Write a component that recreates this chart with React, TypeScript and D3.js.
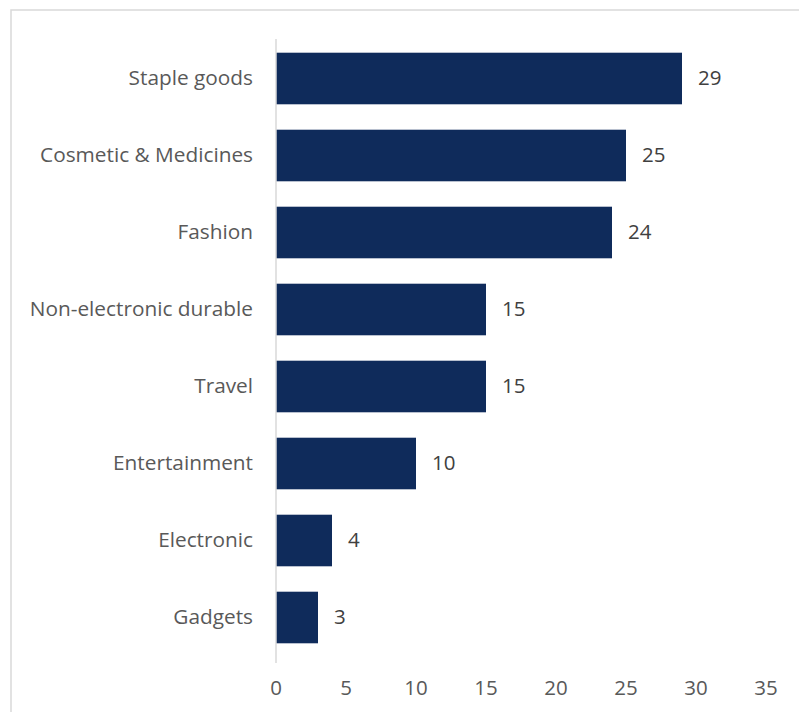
import React from "react";
import * as d3 from "d3";

const categories = ["Staple goods", "Cosmetic & Medicines", "Fashion", "Non-electronic durable", "Travel", "Entertainment", "Electronic", "Gadgets"];
const values = [29, 25, 24, 15, 15, 10, 4, 3];
const ticks = [0, 5, 10, 15, 20, 25, 30, 35];

const W = 799;
const H = 712;
const FONT = "'Open Sans', sans-serif";

export default function App() {
  const x = d3.scaleLinear().domain([0, 35]).range([276, 766]);
  const y = d3.scaleBand().domain(categories).range([40, 656]).paddingInner(0.33).paddingOuter(0.165);
  return (
    <svg width={W} height={H} style={{ position: "absolute", left: 0, top: 0 }} fontFamily={FONT}>
      <rect x={0} y={0} width={W} height={H} fill="#fff" />
      <rect x={11} y={10} width={W + 20} height={H + 20} fill="none" stroke="#d9d9d9" strokeWidth={1.5} />
      {categories.map((c, i) => (
        <g key={c}>
          <rect x={x(0)} y={y(c)!} width={x(values[i]) - x(0)} height={y.bandwidth()} fill="#0f2b5b" />
          <text x={x(values[i]) + 16} y={y(c)! + y.bandwidth() / 2} dy="0.3em" fontSize={20.5} fill="#404040">{values[i]}</text>
          <text x={253} y={y(c)! + y.bandwidth() / 2} dy="0.3em" fontSize={20.8} fill="#595959" textAnchor="end">{c}</text>
        </g>
      ))}
      <line x1={x(0)} x2={x(0)} y1={39} y2={663} stroke="#d9d9d9" strokeWidth={1.5} />
      {ticks.map((t) => (
        <text key={t} x={x(t)} y={689} dy="0.3em" fontSize={20.5} fill="#595959" textAnchor="middle">{t}</text>
      ))}
    </svg>
  );
}
